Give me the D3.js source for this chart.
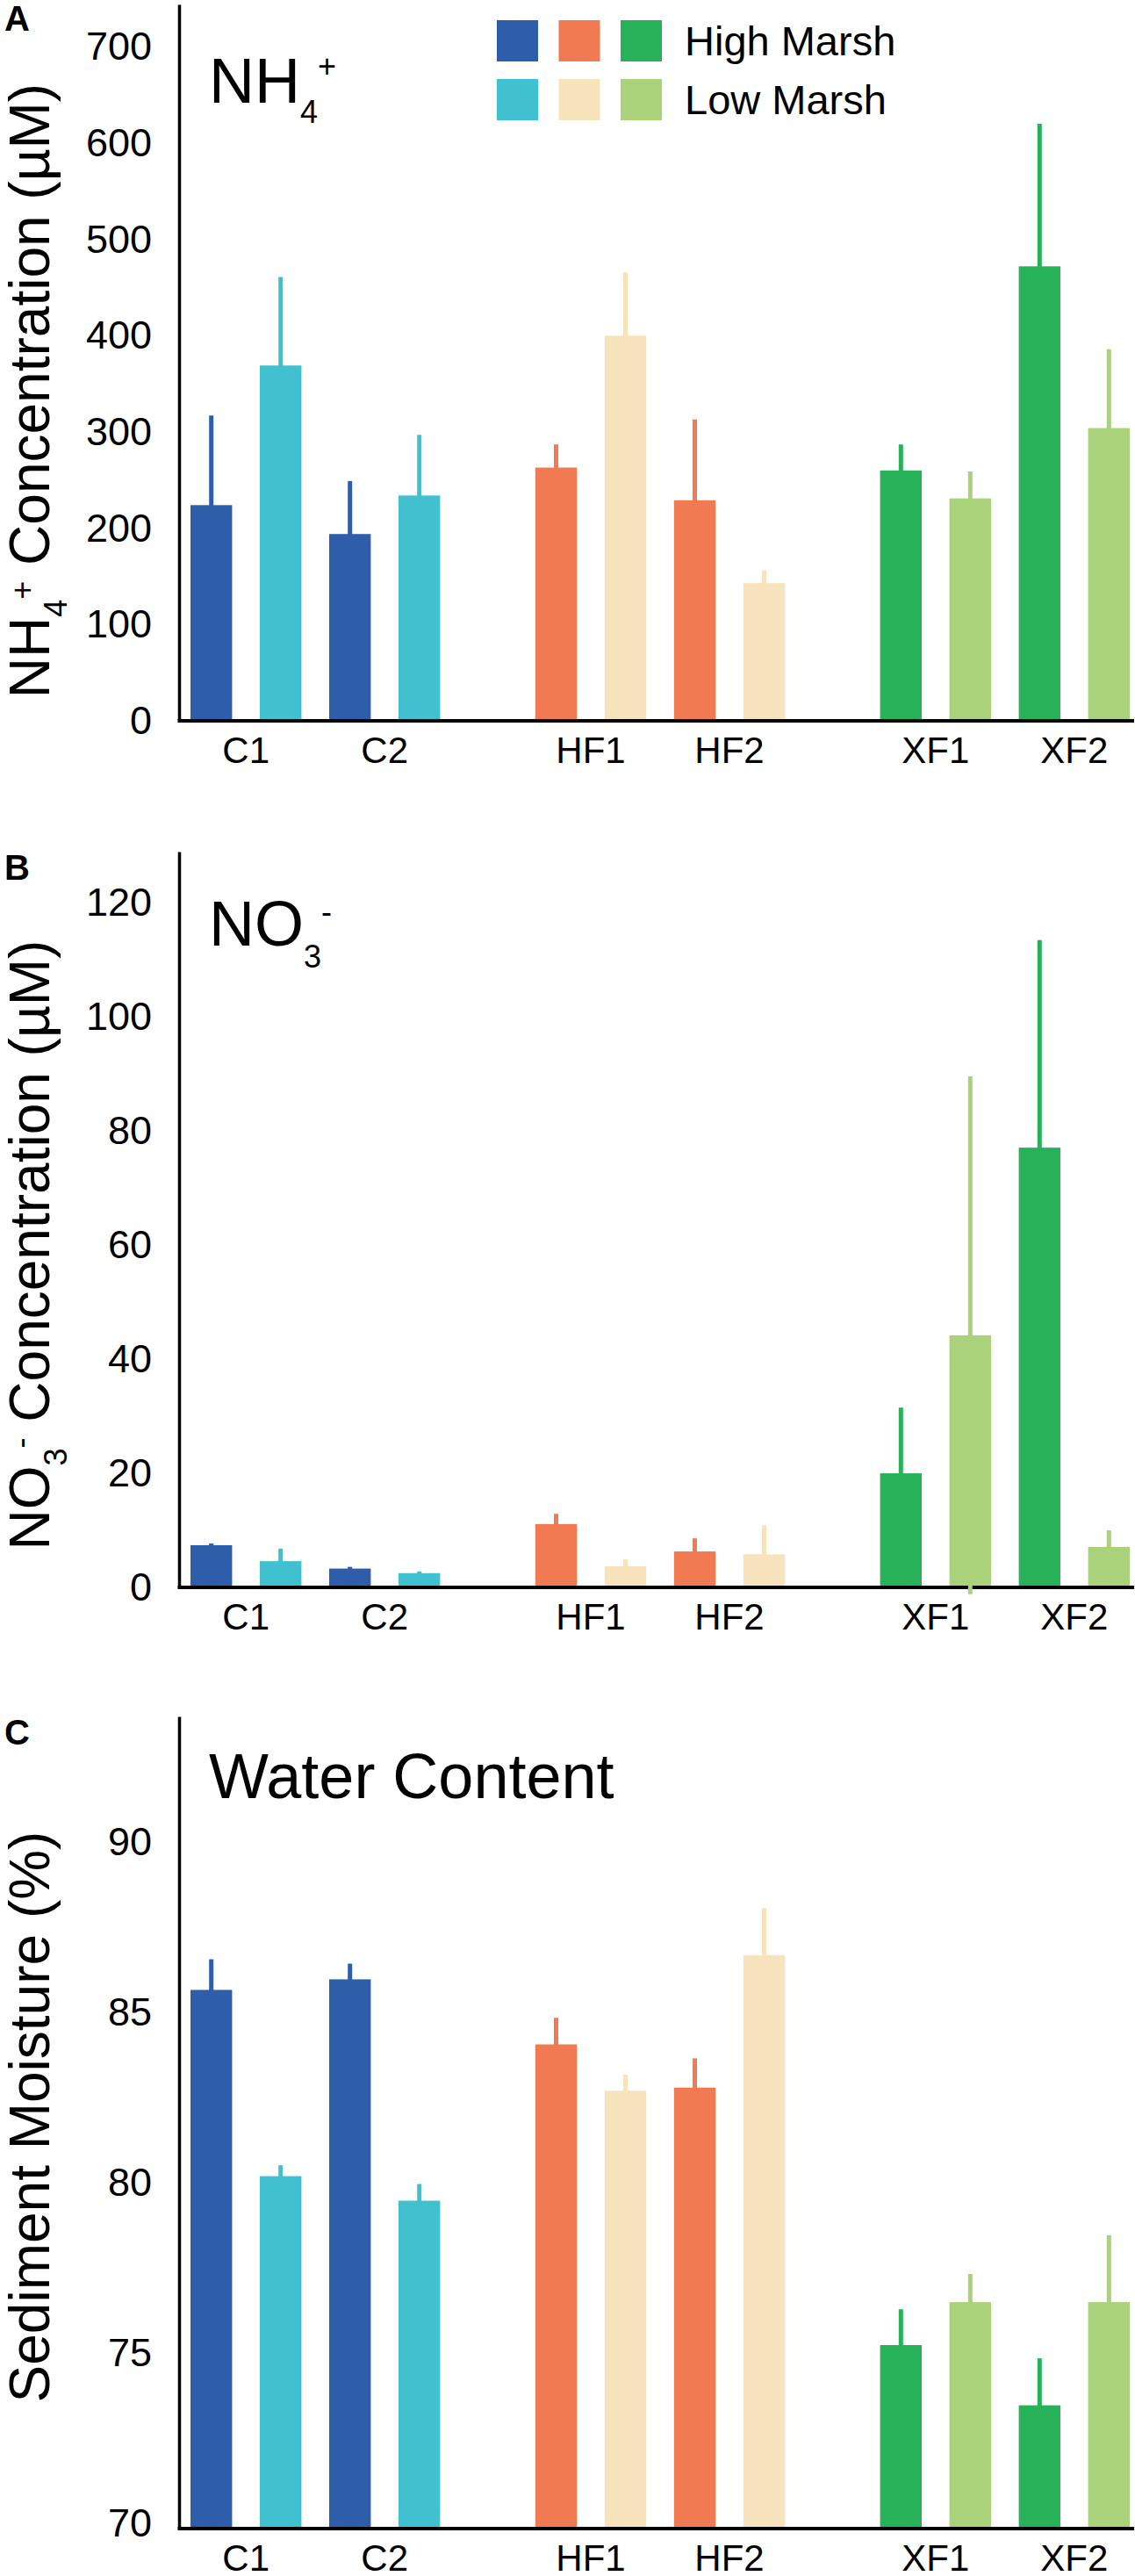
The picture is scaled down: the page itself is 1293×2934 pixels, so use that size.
<!DOCTYPE html>
<html>
<head>
<meta charset="utf-8">
<script src="https://cdn.jsdelivr.net/npm/d3@7"></script>
<style>
  body { margin: 0; background: #fff; }
  svg text { font-family: "Liberation Sans", Arial, Helvetica, sans-serif; fill: #000; }
</style>
</head>
<body>
<svg width="1293" height="2934"></svg>
<script>
// categories
var sites = ["C1", "C2", "HF1", "HF2", "XF1", "XF2"];
var siteGroups = ["C", "C", "HF", "HF", "XF", "XF"];
var groups = ["C", "HF", "XF"];
var marshes = ["High Marsh", "Low Marsh"];
var highColors = ["#2E5EAA", "#F27A52", "#27B158"];
var lowColors = ["#41C1CF", "#F7E4BC", "#AAD27A"];

// A: NH4+ (uM)
var nh4High = [224, 194, 263, 229, 260, 472];
var nh4HighErr = [93, 55, 24, 84, 27, 148];
var nh4Low = [369, 234, 400, 143, 231, 304];
var nh4LowErr = [92, 63, 66, 13, 28, 82];
var nh4Ticks = [0, 100, 200, 300, 400, 500, 600, 700];

// B: NO3- (uM)
var no3High = [7.4, 3.3, 11.1, 6.3, 20.0, 77.1];
var no3HighErr = [0.3, 0.3, 1.8, 2.3, 11.5, 36.4];
var no3Low = [4.6, 2.5, 3.7, 5.8, 44.2, 7.1];
var no3LowErr = [2.2, 0.3, 1.2, 5.1, 45.4, 2.9];
var no3Ticks = [0, 20, 40, 60, 80, 100, 120];

// C: water content (%)
var waterHigh = [85.67, 85.98, 84.07, 82.8, 75.24, 73.47];
var waterHighErr = [0.9, 0.46, 0.78, 0.86, 1.05, 1.38];
var waterLow = [80.2, 79.48, 82.71, 86.69, 76.5, 76.5];
var waterLowErr = [0.32, 0.49, 0.47, 1.38, 0.83, 1.96];
var waterTicks = [70, 75, 80, 85, 90];

function main() {
    var svg = d3.select("svg");
    var axisX = 204, rightX = 1292;

    var panels = [
        { letter: "A", letterY: 35, top: 5, bottom: 821, domain: [0, 744], ticks: nh4Ticks,
          high: nh4High, highErr: nh4HighErr, low: nh4Low, lowErr: nh4LowErr,
          titleY: 117, title: [["NH", 72, 0], ["4", 36, 23], ["+", 36, -52]],
          labelY: 445, label: [["NH", 64, 0], ["4", 36, 20], ["+", 36, -38], [" Concentration (µM)", 64, 18]] },
        { letter: "B", letterY: 1002, top: 970, bottom: 1808, domain: [0, 129], ticks: no3Ticks,
          high: no3High, highErr: no3HighErr, low: no3Low, lowErr: no3LowErr,
          titleY: 1077, title: [["NO", 72, 0], ["3", 36, 25], ["-", 36, -51]],
          labelY: 1418, label: [["NO", 64, 0], ["3", 36, 20], ["-", 36, -40], [" Concentration (µM)", 64, 20]] },
        { letter: "C", letterY: 1987, top: 1955, bottom: 2880, domain: [69.85, 93.7], ticks: waterTicks,
          high: waterHigh, highErr: waterHighErr, low: waterLow, lowErr: waterLowErr,
          titleY: 2048, title: [["Water Content", 72, 0]],
          labelY: 2411, label: [["Sediment Moisture (%)", 64, 0]] }
    ];

    // x: groups, then 4 bars per group (site x marsh)
    var x0 = d3.scaleBand().domain(groups).range([217, 1287]).paddingInner(0.276).paddingOuter(0);
    var x1 = d3.scaleBand().domain([0, 1, 2, 3]).range([0, x0.bandwidth()]).paddingInner(0.4).paddingOuter(0);
    var bw = x1.bandwidth();

    function siteIndexInGroup(i) {
        var g = siteGroups[i];
        return sites.filter(function(s, j) { return siteGroups[j] === g; }).indexOf(sites[i]);
    }
    function barX(i, m) {
        return x0(siteGroups[i]) + x1(siteIndexInGroup(i) * 2 + m);
    }
    function colorOf(i, m) {
        var gi = groups.indexOf(siteGroups[i]);
        return m === 0 ? highColors[gi] : lowColors[gi];
    }

    panels.forEach(function(p) {
        var y = d3.scaleLinear().domain(p.domain).range([p.bottom, p.top]);
        var g = svg.append("g");

        var bars = [];
        sites.forEach(function(s, i) {
            bars.push({ i: i, m: 0, v: p.high[i], e: p.highErr[i] });
            bars.push({ i: i, m: 1, v: p.low[i], e: p.lowErr[i] });
        });

        g.selectAll(".bar")
            .data(bars)
            .enter().append("rect")
            .attr("class", "bar")
            .attr("x", function(d) { return barX(d.i, d.m); })
            .attr("y", function(d) { return y(d.v); })
            .attr("width", bw)
            .attr("height", function(d) { return p.bottom - y(d.v); })
            .attr("fill", function(d) { return colorOf(d.i, d.m); });

        // y axis
        var ax = g.append("g")
            .attr("transform", "translate(" + axisX + ",0)")
            .call(d3.axisLeft(y).tickValues(p.ticks).tickSize(0).tickSizeOuter(0).tickPadding(31));
        ax.select(".domain").attr("stroke", "#000").attr("stroke-width", 3.5);
        ax.selectAll("text")
            .attr("font-size", 45)
            .style("font-family", "'Liberation Sans', Arial, Helvetica, sans-serif");

        // baseline
        g.append("line")
            .attr("x1", axisX - 1.5).attr("x2", rightX)
            .attr("y1", p.bottom).attr("y2", p.bottom)
            .attr("stroke", "#000").attr("stroke-width", 4);

        // error bars
        g.selectAll(".err")
            .data(bars)
            .enter().append("line")
            .attr("class", "err")
            .attr("x1", function(d) { return barX(d.i, d.m) + bw / 2; })
            .attr("x2", function(d) { return barX(d.i, d.m) + bw / 2; })
            .attr("y1", function(d) { return y(d.v - d.e); })
            .attr("y2", function(d) { return y(d.v + d.e); })
            .attr("stroke", function(d) { return colorOf(d.i, d.m); })
            .attr("stroke-width", 5);

        // site labels
        g.selectAll(".site")
            .data(sites)
            .enter().append("text")
            .attr("class", "site")
            .attr("x", function(s, i) { return (barX(i, 0) + barX(i, 1) + bw) / 2; })
            .attr("y", p.bottom + 48)
            .attr("text-anchor", "middle")
            .attr("font-size", 42)
            .text(function(s) { return s; });

        // panel letter
        g.append("text")
            .attr("x", 5).attr("y", p.letterY)
            .attr("font-size", 40).attr("font-weight", "bold")
            .text(p.letter);

        // title
        var t = g.append("text").attr("x", 238).attr("y", p.titleY);
        p.title.forEach(function(s) {
            t.append("tspan").attr("font-size", s[1]).attr("dy", s[2]).text(s[0]);
        });

        // y label
        var l = g.append("text")
            .attr("transform", "translate(56," + p.labelY + ") rotate(-90)")
            .attr("text-anchor", "middle");
        p.label.forEach(function(s) {
            l.append("tspan").attr("font-size", s[1]).attr("dy", s[2]).text(s[0]);
        });
    });

    // legend
    var leg = svg.append("g");
    [highColors, lowColors].forEach(function(cols, r) {
        leg.selectAll(".sw" + r)
            .data(cols)
            .enter().append("rect")
            .attr("x", function(c, k) { return 566 + k * 70.5; })
            .attr("y", 23 + r * 67)
            .attr("width", 47).attr("height", 47)
            .attr("fill", function(c) { return c; });
        leg.append("text")
            .attr("x", 780).attr("y", 63 + r * 67)
            .attr("font-size", 47)
            .text(marshes[r]);
    });
}
main();
</script>
</body>
</html>
